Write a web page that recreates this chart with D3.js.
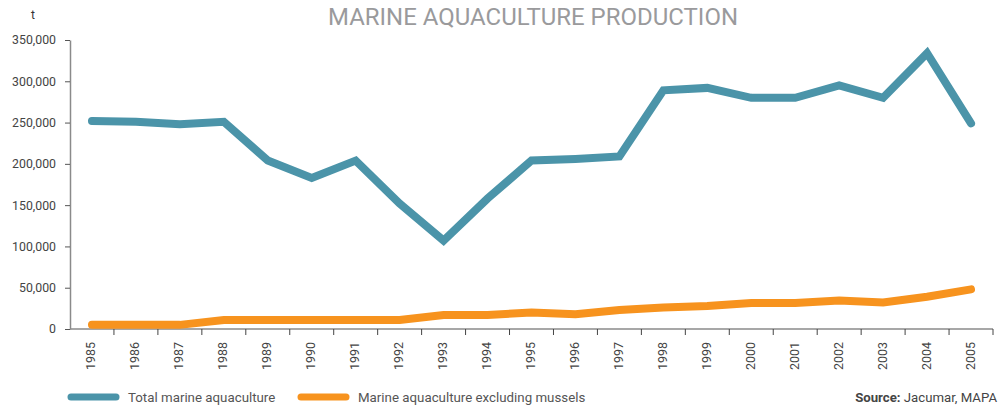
<!DOCTYPE html>
<html><head><meta charset="utf-8">
<script src="https://cdn.jsdelivr.net/npm/d3@7"></script>
<style>
body{margin:0;background:#fff;}
svg{display:block;font-family:Roboto, "DejaVu Sans", sans-serif;}
</style></head><body>
<svg id="c" width="999" height="407"></svg>
<script>
const years = [1985,1986,1987,1988,1989,1990,1991,1992,1993,1994,1995,1996,1997,1998,1999,2000,2001,2002,2003,2004,2005];
const totalMarine = [252000,251000,248000,251000,204000,183000,204000,152000,107000,158000,204000,206000,209000,289000,292000,280000,280000,295000,280000,334000,249000];
const excludingMussels = [5000,5000,5000,11000,11000,11000,11000,11000,17000,17000,20000,18000,23000,26000,28000,31500,31500,34500,32000,39000,48000];
const yTicks = [0,50000,100000,150000,200000,250000,300000,350000];
const seriesNames = ["Total marine aquaculture","Marine aquaculture excluding mussels"];
const colors = ["#4b94a9","#f7931e"];

const svg = d3.select("#c");
const x0 = 70, x1 = 993, yTop = 40, yBot = 329;
const x = d3.scaleBand().domain(years).range([x0,x1]);
const y = d3.scaleLinear().domain([0,350000]).range([yBot,yTop]);

// title
svg.append("text").attr("x",533).attr("y",25).attr("text-anchor","middle")
  .attr("fill","#9a9a9c").attr("font-size",23).attr("font-weight",400)
  .attr("textLength",410).attr("lengthAdjust","spacingAndGlyphs")
  .text("MARINE AQUACULTURE PRODUCTION");
svg.append("text").attr("x",33).attr("y",19).attr("text-anchor","middle")
  .attr("fill","#333").attr("font-size",12).text("t");

// y axis
const yAx = svg.append("g").attr("transform",`translate(${x0},0)`)
  .call(d3.axisLeft(y).tickValues(yTicks).tickSize(5).tickSizeOuter(0).tickFormat(d3.format(",")));
yAx.select(".domain").attr("stroke","#8a8a8a").attr("stroke-width",1.5);
yAx.selectAll(".tick line").attr("stroke","#555");
yAx.selectAll(".tick text").attr("fill","#444").attr("font-size",12.3).attr("font-family","Roboto, sans-serif").attr("x",-14);

// x axis: boundary ticks
const xg = svg.append("g");
xg.append("line").attr("x1",x0).attr("x2",x1).attr("y1",yBot).attr("y2",yBot).attr("stroke","#8a8a8a").attr("stroke-width",1.5);
years.forEach((yr,i)=>{
  const bx = x(yr)+x.bandwidth();
  xg.append("line").attr("x1",bx).attr("x2",bx).attr("y1",yBot).attr("y2",yBot+6).attr("stroke","#444").attr("stroke-width",1);
  xg.append("text").attr("transform",`translate(${x(yr)+x.bandwidth()/2+3.5},342) rotate(-90)`)
    .attr("text-anchor","end").attr("fill","#444").attr("font-size",12.5).text(yr);
});

// lines
const line = d3.line().x((d,i)=>x(years[i])+x.bandwidth()/2).y(d=>y(d));
[totalMarine, excludingMussels].forEach((s,k)=>{
  svg.append("path").datum(s).attr("d",line).attr("fill","none")
    .attr("stroke",colors[k]).attr("stroke-width",8).attr("stroke-linecap","round").attr("stroke-linejoin","miter");
});

// legend
const leg = [{x:68,tx:128},{x:298,tx:358}];
seriesNames.forEach((n,k)=>{
  svg.append("line").attr("x1",leg[k].x+3).attr("x2",leg[k].x+48).attr("y1",397).attr("y2",397)
    .attr("stroke",colors[k]).attr("stroke-width",7).attr("stroke-linecap","round");
  svg.append("text").attr("x",leg[k].tx).attr("y",401.5).attr("fill","#555").attr("font-size",13.3).text(n);
});
const src = svg.append("text").attr("x",997).attr("y",401.5).attr("text-anchor","end").attr("fill","#444").attr("font-size",13.2);
src.append("tspan").attr("font-weight","bold").text("Source: ");
src.append("tspan").text("Jacumar, MAPA");
</script>
</body></html>
